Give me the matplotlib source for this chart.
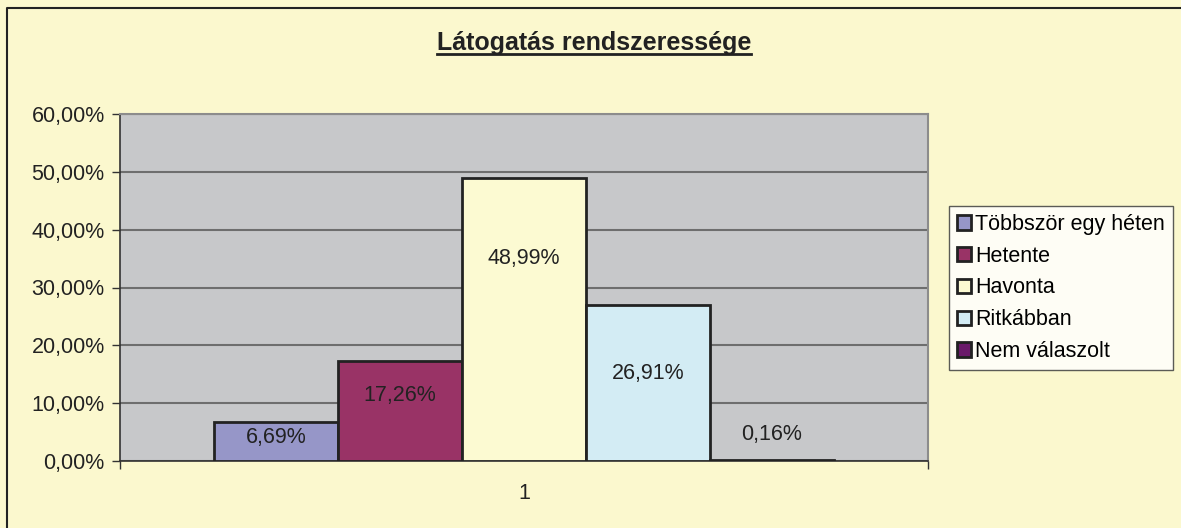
import matplotlib
matplotlib.use("Agg")
import matplotlib.pyplot as plt
from matplotlib.patches import Patch
from matplotlib.lines import Line2D

# data
categories = ["Többször egy héten", "Hetente", "Havonta", "Ritkábban", "Nem válaszolt"]
values = [6.69, 17.26, 48.99, 26.91, 0.16]
labels = ["6,69%", "17,26%", "48,99%", "26,91%", "0,16%"]
label_pos = [4.0, 11.4, 35.1, 15.2, 4.5]   # where excel left the data labels
yticks = [0, 10, 20, 30, 40, 50, 60]
ytick_labels = ["0,00%", "10,00%", "20,00%", "30,00%", "40,00%", "50,00%", "60,00%"]
colors = ["#9696C8", "#993366", "#FCFAD2", "#D3ECF4", "#6A1A6A"]

bg = "#FBF8CE"
fs = 15.5
plt.rcParams['font.family'] = ['Liberation Sans', 'DejaVu Sans']

fig = plt.figure(figsize=(11.81, 5.28), dpi=100, facecolor=bg)
ax = fig.add_axes([120/1181, 1-461/528, 808/1181, 347/528])
ax.set_facecolor("#C7C8CA")

w = 0.1535
for i, v in enumerate(values):
    x = 1 + (i - 2) * w
    ax.bar(x, v, width=w, color=colors[i], edgecolor="#222222", linewidth=2, zorder=3)
    ax.text(x, label_pos[i], labels[i], ha="center", va="center", fontsize=fs,
            color="#222222", zorder=4)

ax.set_xlim(0.5, 1.5)
ax.set_ylim(0, 60)
ax.set_yticks(yticks)
ax.set_yticklabels(ytick_labels, fontsize=fs, color="#222222")
ax.set_xticks([1])
ax.set_xticklabels(["1"], fontsize=fs, color="#222222")
ax.set_xticks([0.5, 1.5], minor=True)
ax.tick_params(axis="x", which="major", length=0, pad=16)
ax.tick_params(axis="x", which="minor", length=6, width=1, color="#333333")
ax.tick_params(axis="y", length=6, width=1, color="#333333", pad=5)
ax.yaxis.grid(True, color="#6E6E6E", linewidth=1.5, zorder=1)
ax.set_axisbelow(True)
for s in ["top", "right"]:
    ax.spines[s].set_color("#8C8C8C")
    ax.spines[s].set_linewidth(1.5)
for s in ["left", "bottom"]:
    ax.spines[s].set_color("#333333")
    ax.spines[s].set_linewidth(1.2)

handles = [Patch(facecolor=c, edgecolor="#222222", linewidth=2) for c in colors]
leg = fig.legend(handles, categories, loc="center", bbox_to_anchor=(1061/1181, 1-288/528),
                 fontsize=fs, frameon=True, fancybox=False, edgecolor="#333333",
                 handlelength=0.65, handleheight=0.65, handletextpad=0.2,
                 labelspacing=0.5, borderpad=0.35, borderaxespad=0)
leg.get_frame().set_facecolor("white")
leg.get_frame().set_linewidth(1)

title = fig.text(594/1181, 1-50/528, "Látogatás rendszeressége", ha="center",
                 va="baseline", fontsize=18, fontweight="bold", color="#222222")

# underline the title
fig.canvas.draw()
bb = title.get_window_extent().transformed(fig.transFigure.inverted())
fig.add_artist(Line2D([bb.x0, bb.x1], [1-53.5/528, 1-53.5/528], color="#222222",
                      linewidth=2, transform=fig.transFigure))

# outer frame (only top and left visible in the original)
fig.add_artist(Line2D([7/1181, 7/1181, 1], [0, 1-8/528, 1-8/528], color="#222222",
                      linewidth=1.5, transform=fig.transFigure))

fig.savefig("out.png", dpi=100, facecolor=bg)
